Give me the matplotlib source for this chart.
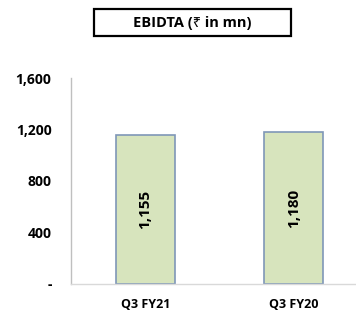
import matplotlib.pyplot as plt
from matplotlib.patches import Rectangle

# Data
categories = ['Q3 FY21', 'Q3 FY20']
ebitda = [1155, 1180]
yticks = [0, 400, 800, 1200, 1600]
ytick_labels = ['-', '400', '800', '1,200', '1,600']

plt.rcParams['font.family'] = ['Open Sans', 'Noto Sans', 'DejaVu Sans']
plt.rcParams['font.weight'] = 'bold'

fig = plt.figure(figsize=(3.56, 3.12), dpi=100)
W, H = 356, 312
ax = fig.add_axes([71 / W, 1 - 284 / H, (356 - 71) / W, (284 - 78) / H])

x = range(len(categories))
bars = ax.bar(x, ebitda, width=0.4, color='#D7E4BD', edgecolor='#7F97B8', linewidth=1.2)

for xi, v in zip(x, ebitda):
    ax.text(xi, v / 2, f'{v:,}', rotation=90, ha='center', va='center',
            fontsize=11, fontweight='bold', color='black')

ax.set_xlim(-0.5, 1.42)
ax.set_ylim(0, 1600)
ax.set_yticks(yticks)
ax.set_yticklabels(ytick_labels, fontsize=10, fontweight='bold')
ax.set_xticks(list(x))
ax.set_xticklabels(categories, fontsize=9, fontweight='bold')
ax.tick_params(axis='y', length=0, pad=14)
ax.tick_params(axis='x', length=0, pad=10)

for s in ['top', 'right']:
    ax.spines[s].set_visible(False)
ax.spines['left'].set_color('#BFBFBF')
ax.spines['bottom'].set_color('#D9D9D9')
ax.spines['left'].set_linewidth(1)
ax.spines['bottom'].set_linewidth(1)

# Title box
fig.patches.append(Rectangle((94 / W, 1 - 36 / H), (291 - 94) / W, 27 / H,
                             transform=fig.transFigure, fill=False,
                             edgecolor='black', linewidth=1.6))
fig.text(192 / W, 1 - 22.5 / H, 'EBIDTA (₹ in mn)', ha='center', va='center',
         fontsize=10.5, fontweight='bold', family=['Open Sans', 'Noto Sans', 'DejaVu Sans'])

fig.savefig('out.png', dpi=100)
